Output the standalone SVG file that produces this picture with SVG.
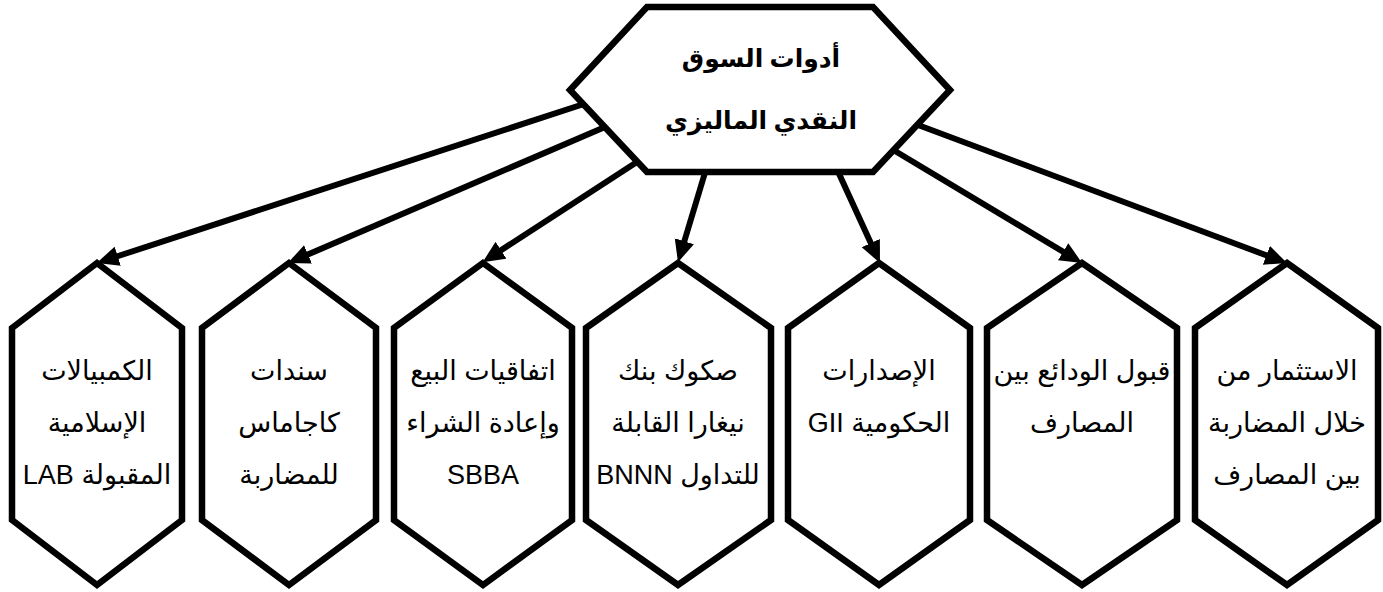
<svg xmlns="http://www.w3.org/2000/svg" width="1383" height="592" viewBox="0 0 1383 592">
  <style>
    .hex { fill: #ffffff; stroke: #000000; stroke-width: 6.5; stroke-linejoin: miter; }
    .link { fill: none; stroke: #000000; stroke-width: 6; }
    .lbl { font-family: "Liberation Sans", "DejaVu Sans", sans-serif; font-size: 27px; fill: #000000; text-anchor: middle; direction: rtl; unicode-bidi: embed; }
    .title { font-family: "Liberation Serif", "DejaVu Sans", serif; font-size: 25px; font-weight: bold; fill: #000000; text-anchor: middle; direction: rtl; unicode-bidi: embed; }
  </style>
  <defs>
    <marker id="arrow" markerUnits="userSpaceOnUse" markerWidth="24" markerHeight="22" refX="6" refY="10" orient="auto">
      <path d="M0,0 L22,10 L0,20 z" fill="#000000"/>
    </marker>
  </defs>
  <rect width="1383" height="592" fill="#ffffff"/>

  <!-- connectors from the root to each instrument -->
  <g id="connectors">
    <line class="link" x1="590" y1="102" x2="112" y2="258" marker-end="url(#arrow)"/>
    <line class="link" x1="612" y1="124" x2="302.5" y2="256.8" marker-end="url(#arrow)"/>
    <line class="link" x1="640" y1="160" x2="496" y2="253.5" marker-end="url(#arrow)"/>
    <line class="link" x1="707" y1="166" x2="682.6" y2="247" marker-end="url(#arrow)"/>
    <line class="link" x1="835" y1="165" x2="873.3" y2="248.5" marker-end="url(#arrow)"/>
    <line class="link" x1="890" y1="148" x2="1068.3" y2="254.8" marker-end="url(#arrow)"/>
    <line class="link" x1="910" y1="122" x2="1272" y2="257.4" marker-end="url(#arrow)"/>
  </g>

  <!-- root node -->
  <g id="root">
    <polygon class="hex" points="647,7 873,7 950,90 873,172 647,172 570,90"/>
    <text class="title" x="761" y="67">أدوات السوق</text>
    <text class="title" x="761" y="129">النقدي الماليزي</text>
  </g>

  <!-- instrument nodes -->
  <g id="node-lab">
    <polygon class="hex" points="97,263 182,328 182,520 97,585 12,520 12,328"/>
    <text class="lbl" x="97" y="380">الكمبيالات</text>
    <text class="lbl" x="97" y="432">الإسلامية</text>
    <text class="lbl" x="97" y="484">المقبولة LAB</text>
  </g>
  <g id="node-cagamas">
    <polygon class="hex" points="289,263 376,328 376,520 289,585 202,520 202,328"/>
    <text class="lbl" x="289" y="380">سندات</text>
    <text class="lbl" x="289" y="432">كاجاماس</text>
    <text class="lbl" x="289" y="484">للمضاربة</text>
  </g>
  <g id="node-sbba">
    <polygon class="hex" points="483,263 572,328 572,520 483,585 394,520 394,328"/>
    <text class="lbl" x="483" y="380">اتفاقيات البيع</text>
    <text class="lbl" x="483" y="432">وإعادة الشراء</text>
    <text class="lbl" x="483" y="484">SBBA</text>
  </g>
  <g id="node-bnnn">
    <polygon class="hex" points="678,263 771,328 771,520 678,585 586,520 586,328"/>
    <text class="lbl" x="678" y="380">صكوك بنك</text>
    <text class="lbl" x="678" y="432">نيغارا القابلة</text>
    <text class="lbl" x="678" y="484">للتداول BNNN</text>
  </g>
  <g id="node-gii">
    <polygon class="hex" points="879,263 970,328 970,520 879,585 788,520 788,328"/>
    <text class="lbl" x="879" y="380">الإصدارات</text>
    <text class="lbl" x="879" y="432">الحكومية GII</text>
  </g>
  <g id="node-deposits">
    <polygon class="hex" points="1082,263 1177,328 1177,520 1082,585 987,520 987,328"/>
    <text class="lbl" x="1082" y="380">قبول الودائع بين</text>
    <text class="lbl" x="1082" y="432">المصارف</text>
  </g>
  <g id="node-mudarabah">
    <polygon class="hex" points="1287,263 1378,328 1378,520 1287,585 1195,520 1195,328"/>
    <text class="lbl" x="1287" y="380">الاستثمار من</text>
    <text class="lbl" x="1287" y="432">خلال المضاربة</text>
    <text class="lbl" x="1287" y="484">بين المصارف</text>
  </g>
</svg>
